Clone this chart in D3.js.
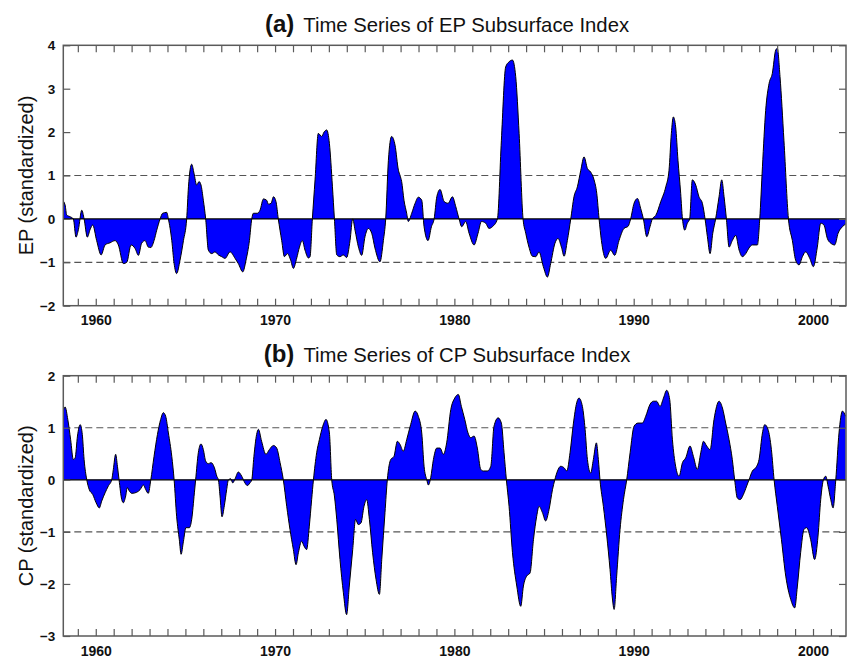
<!DOCTYPE html>
<html>
<head>
<meta charset="utf-8">
<script src="https://cdn.jsdelivr.net/npm/d3@7"></script>
<style>
  html, body { margin: 0; padding: 0; background: #fff; }
  svg { display: block; font-family: "Liberation Sans", Arial, Helvetica, sans-serif; }
</style>
</head>
<body>
<svg id="chart" width="849" height="657"></svg>
<script>
// ---------------- DATA ----------------
const epYears = [1958.14,1958.29,1958.38,1958.57,1958.75,1958.90,1959.03,1959.22,1959.35,1959.53,1959.68,1959.83,1960.05,1960.30,1960.52,1960.80,1961.08,1961.26,1961.54,1961.73,1961.97,1962.19,1962.38,1962.56,1962.75,1962.93,1963.07,1963.25,1963.40,1963.59,1963.73,1963.96,1964.05,1964.24,1964.37,1964.51,1964.70,1964.89,1965.07,1965.17,1965.26,1965.35,1965.48,1965.63,1965.76,1965.87,1966.00,1966.13,1966.28,1966.47,1966.65,1966.84,1967.02,1967.21,1967.49,1967.77,1967.95,1968.20,1968.38,1968.57,1968.70,1968.79,1969.01,1969.16,1969.35,1969.53,1969.63,1969.78,1969.91,1970.05,1970.18,1970.37,1970.52,1970.69,1970.87,1971.02,1971.21,1971.36,1971.52,1971.67,1971.86,1971.95,1972.08,1972.23,1972.41,1972.60,1972.73,1972.88,1973.03,1973.20,1973.31,1973.44,1973.62,1973.81,1973.99,1974.18,1974.33,1974.46,1974.65,1974.83,1975.02,1975.20,1975.39,1975.57,1975.85,1976.04,1976.17,1976.32,1976.50,1976.69,1976.88,1976.97,1977.06,1977.19,1977.34,1977.43,1977.62,1977.81,1977.99,1978.18,
  1978.31,1978.53,1978.72,1978.87,1979.02,1979.20,1979.43,1979.65,1979.89,1980.08,1980.26,1980.41,1980.63,1980.82,1981.10,1981.32,1981.51,1981.75,1981.93,1982.12,1982.40,1982.62,1982.86,1983.05,1983.24,1983.42,1983.61,1983.83,1983.98,1984.16,1984.35,1984.54,1984.72,1984.96,1985.19,1985.37,1985.61,1985.78,1985.97,1986.12,1986.30,1986.49,1986.67,1986.86,1987.05,1987.23,1987.42,1987.60,1987.79,1987.94,1988.07,1988.20,1988.44,1988.72,1988.94,1989.18,1989.46,1989.69,1989.83,1990.02,1990.21,1990.39,1990.54,1990.73,1990.91,1991.04,1991.23,1991.51,1991.79,1991.97,1992.10,1992.21,1992.34,1992.47,1992.62,1992.72,1992.85,1992.99,1993.12,1993.27,1993.46,1993.64,1993.83,1993.98,1994.11,1994.26,1994.41,1994.57,1994.76,1994.91,1995.04,1995.17,1995.32,1995.50,1995.69,1995.88,1996.06,1996.25,1996.43,1996.62,1996.90,1997.03,1997.18,1997.36,1997.55,1997.73,1997.92,1998.01,1998.16,1998.38,1998.63,1998.85,1999.03,1999.22,1999.41,1999.59,1999.82,2000.02,2000.24,2000.43,2000.61,2000.80,2000.99,2001.21,2001.40,2001.64,2001.82];
const epValues = [0.43,0.32,0.09,0.05,0,-0.42,-0.25,0.2,0,-0.42,-0.25,-0.14,-0.5,-0.83,-0.6,-0.55,-0.5,-0.6,-1.03,-1.0,-0.6,-0.68,-0.84,-0.56,-0.5,-0.65,-0.66,-0.5,-0.26,0,0.13,0.15,0,-0.5,-1.03,-1.26,-0.95,-0.5,0,0.74,1.13,1.26,1.05,0.78,0.86,0.78,0.43,0,-0.72,-0.8,-0.76,-0.83,-0.87,-0.91,-0.76,-0.91,-1.03,-1.22,-0.95,-0.5,0,0.13,0.13,0.2,0.46,0.43,0.34,0.36,0.51,0.4,0,-0.5,-0.87,-0.8,-0.95,-1.14,-0.9,-0.65,-0.5,-0.72,-0.9,-0.87,0,0.9,1.97,1.9,2.0,2.05,1.74,0.74,0,-0.83,-0.87,-0.83,-0.89,-0.5,0,-0.26,-0.65,-0.84,-0.4,-0.22,-0.33,-0.67,-0.99,-0.5,0,1.35,1.9,1.7,1.12,1.0,0.86,0.43,0.13,-0.06,0.13,0.36,0.5,0.43,
  -0.18,-0.5,-0.18,0,0.51,0.68,0.4,0.36,0.51,0.28,0,-0.18,-0.06,-0.33,-0.6,-0.33,-0.06,-0.1,-0.22,-0.18,0,1.8,3.5,3.62,3.66,3.28,1.97,0,-0.33,-0.65,-0.86,-0.87,-0.76,-1.1,-1.34,-1.03,-0.56,-0.45,-0.65,-0.86,-0.5,0,0.51,0.74,1.12,1.43,1.16,1.08,0.9,0.59,0,-0.5,-0.91,-0.72,-0.84,-0.5,-0.22,-0.17,0,0.36,0.47,0.24,0,-0.41,-0.18,0,0.08,0.4,0.74,1.12,1.97,2.35,2.12,1.35,0.59,0,-0.26,-0.1,0,0.9,0.78,0.51,0.36,0,-0.41,-0.8,-0.33,0,0.51,0.9,0.51,0,-0.65,-0.5,-0.38,-0.72,-0.87,-0.8,-0.67,-0.6,-0.6,0,1.2,2.5,3.12,3.35,3.89,3.93,3.28,1.8,0,-0.5,-0.95,-1.06,-0.87,-0.76,-0.91,-1.1,-0.65,-0.1,-0.14,-0.45,-0.56,-0.6,-0.33,-0.18,-0.12];

const cpYears = [1958.14,1958.29,1958.44,1958.60,1958.75,1958.85,1958.98,1959.13,1959.25,1959.35,1959.50,1959.64,1959.83,1960.02,1960.20,1960.33,1960.52,1960.70,1960.89,1960.98,1961.11,1961.21,1961.30,1961.45,1961.54,1961.67,1961.76,1961.88,1962.01,1962.28,1962.47,1962.66,1962.79,1962.93,1963.07,1963.25,1963.44,1963.62,1963.77,1963.90,1964.05,1964.24,1964.37,1964.51,1964.66,1964.76,1964.89,1965.03,1965.22,1965.35,1965.50,1965.57,1965.72,1965.87,1966.00,1966.13,1966.28,1966.43,1966.62,1966.75,1966.84,1966.93,1967.04,1967.17,1967.30,1967.40,1967.53,1967.64,1967.77,1967.95,1968.14,1968.32,1968.45,1968.60,1968.70,1968.82,1968.97,1969.07,1969.25,1969.49,1969.68,1969.91,1970.09,1970.28,1970.46,1970.65,1970.83,1971.02,1971.17,1971.30,1971.48,1971.61,1971.76,1971.91,1972.04,1972.14,1972.32,1972.47,1972.66,1972.84,1973.03,1973.16,1973.31,1973.44,1973.62,1973.81,1973.99,1974.14,1974.33,1974.49,1974.64,1974.79,1974.96,1975.11,1975.26,1975.44,1975.63,1975.82,1975.95,1976.13,1976.26,1976.45,1976.63,1976.82,1976.97,1977.15,1977.34,1977.56,1977.81,1977.99,1978.18,
  1978.31,1978.46,1978.55,1978.68,1978.83,1979.02,1979.20,1979.39,1979.57,1979.80,1980.02,1980.22,1980.39,1980.58,1980.76,1980.91,1981.10,1981.28,1981.47,1981.62,1981.84,1982.03,1982.21,1982.44,1982.62,1982.77,1982.90,1983.05,1983.24,1983.48,1983.70,1983.85,1984.03,1984.22,1984.41,1984.59,1984.72,1984.91,1985.09,1985.28,1985.47,1985.60,1985.75,1985.93,1986.12,1986.27,1986.45,1986.64,1986.82,1986.95,1987.14,1987.29,1987.42,1987.60,1987.75,1987.92,1988.03,1988.12,1988.31,1988.50,1988.68,1988.81,1988.91,1989.05,1989.24,1989.43,1989.61,1989.80,1990.02,1990.24,1990.48,1990.67,1990.91,1991.10,1991.28,1991.47,1991.66,1991.84,1992.01,1992.16,1992.34,1992.53,1992.72,1992.90,1993.14,1993.33,1993.55,1993.74,1993.89,1994.07,1994.26,1994.48,1994.76,1994.95,1995.13,1995.32,1995.50,1995.63,1995.78,1995.93,1996.12,1996.30,1996.43,1996.62,1996.80,1996.99,1997.18,1997.31,1997.49,1997.68,1997.83,1998.01,1998.24,1998.48,1998.76,1998.98,1999.13,1999.31,1999.50,1999.65,1999.87,2000.09,2000.28,2000.43,2000.58,2000.71,2000.84,2000.99,2001.12,2001.27,2001.45,2001.64,2001.82];
const cpValues = [1.25,1.4,1.16,0.77,0.39,0.42,0.84,1.06,0.87,0.39,0,-0.19,-0.28,-0.44,-0.54,-0.41,-0.25,-0.12,0,0.2,0.49,0.26,0,-0.38,-0.44,-0.31,-0.15,-0.22,-0.26,-0.24,-0.19,-0.1,-0.19,-0.26,0,0.45,0.87,1.16,1.29,1.22,0.9,0.45,0,-0.7,-1.15,-1.43,-1.18,-0.92,-0.92,-0.76,-0.25,0,0.52,0.69,0.58,0.36,0.31,0.33,0.23,0.07,0,-0.31,-0.71,-0.5,-0.19,0,0.02,-0.06,0.02,0.15,0.07,-0.06,-0.11,-0.06,0,0.45,0.87,0.97,0.74,0.49,0.58,0.66,0.61,0.33,0,-0.51,-0.95,-1.34,-1.63,-1.4,-1.18,-1.27,-1.34,-0.89,-0.38,0,0.52,0.77,1.03,1.16,0.9,0,-0.31,-0.76,-1.53,-2.17,-2.59,-2.04,-1.34,-0.76,-0.86,-0.83,-0.51,-0.38,-0.76,-1.4,-1.91,-2.2,-1.53,-0.63,0,0.39,0.45,0.74,0.68,0.55,0.77,1.06,1.32,1.22,0.9,
  0.26,0,-0.1,0.04,0.39,0.61,0.61,0.49,0.71,1.35,1.57,1.64,1.41,1.16,0.9,0.81,0.84,0.61,0.2,0.17,0.17,0.26,1.03,1.19,1.09,0.52,0,-0.51,-1.4,-2.04,-2.43,-2.04,-1.85,-1.79,-1.15,-0.7,-0.51,-0.63,-0.79,-0.57,-0.19,0,0.17,0.26,0.23,0.17,0.52,1.09,1.48,1.57,1.41,0.97,0.39,0.13,0.39,0.71,0.39,0,-0.51,-1.08,-1.72,-2.27,-2.49,-1.85,-0.95,-0.38,0,0.52,1.03,1.09,1.09,1.22,1.45,1.51,1.51,1.41,1.57,1.72,1.54,0.77,0.26,0.07,0.33,0.42,0.65,0.45,0.2,0.52,0.74,0.65,0.58,1.16,1.51,1.38,1.09,0.77,0.39,0,-0.35,-0.38,-0.28,-0.12,0,0.17,0.23,0.39,0.9,1.06,0.97,0.58,0,-0.51,-1.15,-1.85,-2.3,-2.46,-2.04,-1.4,-0.95,-0.92,-1.15,-1.53,-1.08,-0.38,0,0.07,-0.12,-0.38,-0.54,0,0.9,1.32,1.22];

const decadeLabels = [1960, 1970, 1980, 1990, 2000];
const yearTicks = d3.range(1959, 2002);
const epTicks = [-2, -1, 0, 1, 2, 3, 4];
const cpTicks = [-3, -2, -1, 0, 1, 2];

// ---------------- LAYOUT ----------------
const svg = d3.select("#chart");
const left = 63.3, right = 846;
const x = d3.scaleLinear().domain([1958.19, 2001.84]).range([left, right]);

const panels = [
  { id: "a", letter: "(a)", title: "Time Series of EP Subsurface Index", ylabel: "EP (standardized)",
    years: epYears, values: epValues, domain: [-2, 4], ticks: epTicks, top: 45.3, bottom: 305.7 },
  { id: "b", letter: "(b)", title: "Time Series of CP Subsurface Index", ylabel: "CP (standardized)",
    years: cpYears, values: cpValues, domain: [-3, 2], ticks: cpTicks, top: 375.7, bottom: 636 }
];

const frameColor = "#5a5a5a";
const tickLen = 7;

panels.forEach(p => {
  const y = d3.scaleLinear().domain(p.domain).range([p.bottom, p.top]);
  const g = svg.append("g");
  const data = p.years.map((yr, i) => ({ t: yr, v: p.values[i] }));

  const clipId = "clip-" + p.id;
  svg.append("clipPath").attr("id", clipId)
    .append("rect").attr("x", left).attr("y", p.top)
    .attr("width", right - left).attr("height", p.bottom - p.top);

  // dashed reference lines at +/-1
  [1, -1].forEach(v => {
    g.append("line")
      .attr("x1", left).attr("x2", right)
      .attr("y1", y(v)).attr("y2", y(v))
      .attr("stroke", "#555").attr("stroke-width", 1.2)
      .attr("stroke-dasharray", "7,4");
  });

  const area = d3.area().curve(d3.curveMonotoneX)
    .x(d => x(d.t)).y0(y(0)).y1(d => y(d.v));
  const line = d3.line().curve(d3.curveMonotoneX)
    .x(d => x(d.t)).y(d => y(d.v));

  const plot = g.append("g").attr("clip-path", `url(#${clipId})`);
  plot.append("path").datum(data).attr("d", area).attr("fill", "#0000ff");
  plot.append("path").datum(data).attr("d", line)
    .attr("fill", "none").attr("stroke", "#000").attr("stroke-width", 1);

  // zero line
  g.append("line").attr("x1", left).attr("x2", right)
    .attr("y1", y(0)).attr("y2", y(0))
    .attr("stroke", "#000").attr("stroke-width", 1.3);

  // frame
  g.append("rect").attr("x", left).attr("y", p.top)
    .attr("width", right - left).attr("height", p.bottom - p.top)
    .attr("fill", "none").attr("stroke", frameColor).attr("stroke-width", 1.5);

  // x ticks (bottom & top, pointing inward) and labels
  g.append("g").attr("transform", `translate(0,${p.bottom})`)
    .call(d3.axisBottom(x).tickValues(yearTicks).tickSizeInner(-tickLen).tickSizeOuter(0).tickFormat(""))
    .call(a => a.select(".domain").remove())
    .call(a => a.selectAll("line").attr("stroke", frameColor).attr("stroke-width", 1.2));
  g.append("g").attr("transform", `translate(0,${p.top})`)
    .call(d3.axisTop(x).tickValues(yearTicks).tickSizeInner(-tickLen).tickSizeOuter(0).tickFormat(""))
    .call(a => a.select(".domain").remove())
    .call(a => a.selectAll("line").attr("stroke", frameColor).attr("stroke-width", 1.2));
  g.append("g").attr("transform", `translate(0,${p.bottom})`)
    .call(d3.axisBottom(x).tickValues(decadeLabels).tickSize(0).tickPadding(0).tickFormat(d3.format("d")))
    .call(a => a.select(".domain").remove())
    .call(a => a.selectAll("text")
      .attr("y", 19.5).attr("dy", 0)
      .attr("fill", "#111").attr("font-size", 14).attr("font-weight", "bold")
      .attr("font-family", '"Liberation Sans", Arial, sans-serif'));

  // y ticks left & right, pointing inward
  g.append("g").attr("transform", `translate(${left},0)`)
    .call(d3.axisLeft(y).tickValues(p.ticks).tickSizeInner(-tickLen).tickSizeOuter(0).tickFormat(d3.format("d")))
    .call(a => a.select(".domain").remove())
    .call(a => a.selectAll("line").attr("stroke", frameColor).attr("stroke-width", 1.2))
    .call(a => a.selectAll("text")
      .attr("x", -8).attr("fill", "#111").attr("font-size", 13.5).attr("font-weight", "bold")
      .attr("font-family", '"Liberation Sans", Arial, sans-serif'));
  g.append("g").attr("transform", `translate(${right},0)`)
    .call(d3.axisRight(y).tickValues(p.ticks).tickSizeInner(-tickLen).tickSizeOuter(0).tickFormat(""))
    .call(a => a.select(".domain").remove())
    .call(a => a.selectAll("line").attr("stroke", frameColor).attr("stroke-width", 1.2));

  // title
  const t = svg.append("text")
    .attr("x", 447).attr("y", p.top - 13.8)
    .attr("text-anchor", "middle").attr("fill", "#111");
  t.append("tspan").attr("font-size", 24).attr("font-weight", "bold").text(p.letter);
  t.append("tspan").attr("font-size", 20.3).attr("dx", 9).text(p.title);

  // y label
  svg.append("text")
    .attr("transform", `translate(33,${(p.top + p.bottom) / 2}) rotate(-90)`)
    .attr("text-anchor", "middle").attr("font-size", 20).attr("fill", "#111")
    .text(p.ylabel);
});
</script>
</body>
</html>
